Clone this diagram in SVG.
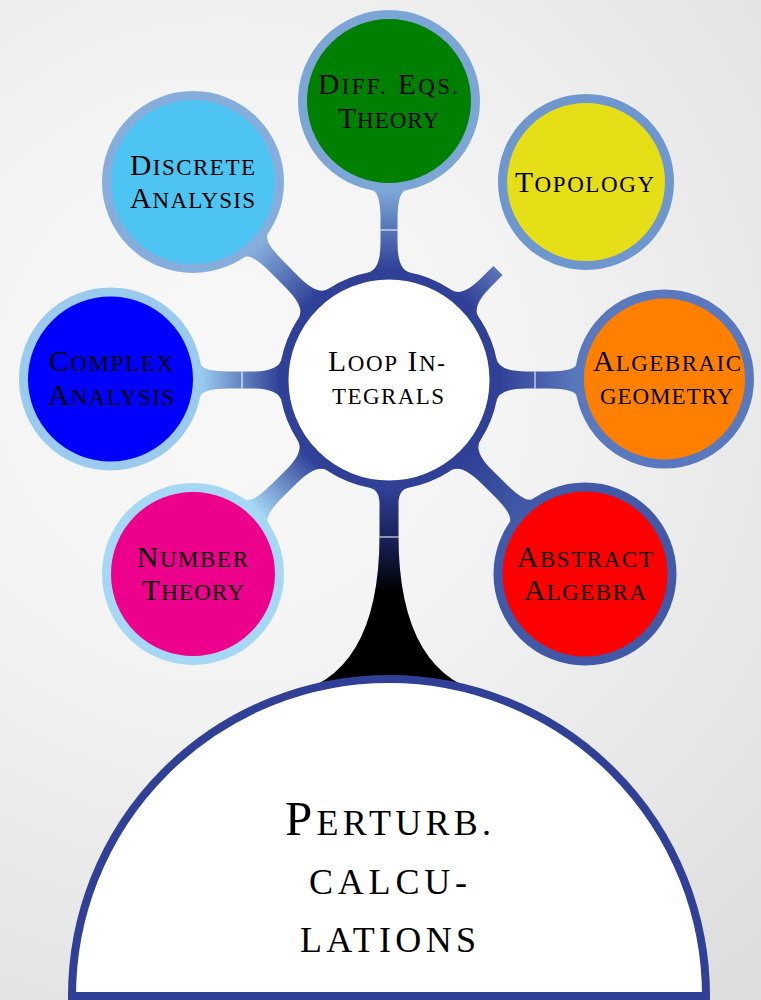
<svg xmlns="http://www.w3.org/2000/svg" width="761" height="1000" viewBox="0 0 761 1000">
<defs>
<style>
.t{font-family:"Liberation Serif","Times New Roman",serif;font-size:29.5px;fill:#000;text-anchor:middle}
.s{font-size:23px}
.b{font-size:49px}
.bs{font-size:36px}
.seam{stroke:#fff;stroke-width:1.2;opacity:0.85}
</style>
<radialGradient id="bg" gradientUnits="userSpaceOnUse" cx="230" cy="380" r="780">
<stop offset="0" stop-color="#f8f8f8"/><stop offset="0.35" stop-color="#f4f4f4"/><stop offset="1" stop-color="#dedede"/>
</radialGradient>
<linearGradient id="gDiff" gradientUnits="userSpaceOnUse" x1="389" y1="270" x2="389" y2="192"><stop offset="0" stop-color="#2F4096"/><stop offset="1" stop-color="#7BA6D6"/></linearGradient>
<linearGradient id="gDisc" gradientUnits="userSpaceOnUse" x1="312" y1="302" x2="257" y2="247"><stop offset="0" stop-color="#2F4096"/><stop offset="1" stop-color="#86AEDC"/></linearGradient>
<linearGradient id="gTopo" gradientUnits="userSpaceOnUse" x1="466" y1="302" x2="498" y2="270"><stop offset="0" stop-color="#2F4096"/><stop offset="1" stop-color="#5C76B8"/></linearGradient>
<linearGradient id="gComp" gradientUnits="userSpaceOnUse" x1="280" y1="380" x2="202" y2="380"><stop offset="0" stop-color="#2F4096"/><stop offset="1" stop-color="#9ACAEE"/></linearGradient>
<linearGradient id="gAlg" gradientUnits="userSpaceOnUse" x1="498" y1="380" x2="576" y2="380"><stop offset="0" stop-color="#2F4096"/><stop offset="1" stop-color="#5A78BD"/></linearGradient>
<linearGradient id="gNum" gradientUnits="userSpaceOnUse" x1="311" y1="457" x2="257" y2="511"><stop offset="0" stop-color="#2F4096"/><stop offset="1" stop-color="#A6D8F6"/></linearGradient>
<linearGradient id="gAbs" gradientUnits="userSpaceOnUse" x1="467" y1="457" x2="521" y2="510"><stop offset="0" stop-color="#2F4096"/><stop offset="1" stop-color="#4159A6"/></linearGradient>
<linearGradient id="gPert" gradientUnits="userSpaceOnUse" x1="389" y1="489" x2="389" y2="592"><stop offset="0" stop-color="#2F4096"/><stop offset="0.47" stop-color="#18235A"/><stop offset="1" stop-color="#000"/></linearGradient>
</defs>
<rect width="761" height="1000" fill="url(#bg)"/>

<g id="connectors">
<path fill="url(#gDiff)" d="M411 272.7 Q397.5 270.8 397.5 242.8 L397.5 219.6 Q397.5 191.6 406 190.4 L372 190.4 Q380.5 191.6 380.5 219.6 L380.5 242.8 Q380.5 270.8 367 272.7 Z"/>
<path fill="url(#gDisc)" d="M329.2 288.3 Q318.2 296.4 298.5 276.5 L282.5 260.3 Q262.8 240.4 268 233.6 L243.8 257.5 Q250.7 252.4 270.4 272.3 L286.5 288.5 Q306.2 308.4 297.9 319.2 Z"/>
<path fill="url(#gTopo)" d="M479.1 317.8 Q470.7 307.1 490.5 287.3 L502.6 275.1 L493.4 265.9 L481.2 278.1 Q461.5 297.9 450.8 289.6 Z"/>
<path fill="url(#gComp)" d="M281.7 358 Q279.8 371.5 251.8 371.5 L229.6 371.5 Q201.6 371.5 200.4 363 L200.4 397 Q201.6 388.5 229.6 388.5 L251.8 388.5 Q279.8 388.5 281.7 402 Z"/>
<path fill="url(#gAlg)" d="M496.3 358 Q498.2 371.5 526.2 371.5 L547.9 371.5 Q575.9 371.5 577.1 363 L577.1 397 Q575.9 388.5 547.9 388.5 L526.2 388.5 Q498.2 388.5 496.3 402 Z"/>
<path fill="url(#gNum)" d="M297.3 439.8 Q305.4 450.8 285.5 470.5 L271.3 484.5 Q251.4 504.2 244.6 499 L268.5 523.2 Q263.4 516.3 283.3 496.6 L297.5 482.5 Q317.4 462.8 328.2 471.1 Z"/>
<path fill="url(#gAbs)" d="M449.8 471.1 Q460.6 462.8 480.5 482.5 L494.4 496.3 Q514.3 516 509.2 522.8 L533.1 498.7 Q526.3 503.9 506.4 484.2 L492.5 470.5 Q472.6 450.8 480.7 439.8 Z"/>
<path fill="url(#gPert)" d="M409 487.7 Q398.5 489.1 398.5 504 L398.5 535 Q398.5 679.1 494 695.5 L284 695.5 Q379.5 679.1 379.5 535 L379.5 504 Q379.5 489.1 369 487.7 Z"/>
<line class="seam" x1="380.5" y1="230" x2="397.5" y2="230"/>
<line class="seam" x1="242" y1="371.5" x2="242" y2="388.5"/>
<line class="seam" x1="535" y1="371.5" x2="535" y2="388.5"/>
<line class="seam" x1="379.5" y1="537" x2="398.5" y2="537"/>
</g>

<g id="node-perturb">
<path d="M72 996 A317 317 0 0 1 706 996 Z" fill="#fff" stroke="#2F4096" stroke-width="8"/>
<text class="t" x="388" y="835" textLength="206"><tspan class="b">P</tspan><tspan class="bs">ERTURB.</tspan></text>
<text class="t bs" x="388" y="894" textLength="158">CALCU-</text>
<text class="t bs" x="388" y="952" textLength="176">LATIONS</text>
</g>

<g id="node-center">
<circle cx="389" cy="380" r="105" fill="#fff" stroke="#2F4096" stroke-width="9"/>
<text class="t" x="386.5" y="371" textLength="117"><tspan>L</tspan><tspan class="s">OOP</tspan> <tspan>I</tspan><tspan class="s">N-</tspan></text>
<text class="t s" x="388" y="404" textLength="112">TEGRALS</text>
</g>

<g id="node-diff">
<circle cx="389" cy="101" r="86.5" fill="#008000" stroke="#7BA6D6" stroke-width="9"/>
<text class="t" x="388" y="94" textLength="140"><tspan>D</tspan><tspan class="s">IFF.</tspan>  <tspan>E</tspan><tspan class="s">QS.</tspan></text>
<text class="t" x="388.5" y="128" textLength="101"><tspan>T</tspan><tspan class="s">HEORY</tspan></text>
</g>

<g id="node-discrete">
<circle cx="193" cy="182" r="86.5" fill="#4DC4F1" stroke="#86AEDC" stroke-width="9"/>
<text class="t" x="192.5" y="175" textLength="125"><tspan>D</tspan><tspan class="s">ISCRETE</tspan></text>
<text class="t" x="192.5" y="208" textLength="125"><tspan>A</tspan><tspan class="s">NALYSIS</tspan></text>
</g>

<g id="node-topology">
<circle cx="586" cy="182" r="83.5" fill="#E6DE17" stroke="#6E97CF" stroke-width="9"/>
<text class="t" x="584.5" y="192" textLength="139"><tspan>T</tspan><tspan class="s">OPOLOGY</tspan></text>
</g>

<g id="node-complex">
<circle cx="110.5" cy="379" r="87" fill="#0000FF" stroke="#9ACAEE" stroke-width="9"/>
<text class="t" x="111" y="371" textLength="124"><tspan>C</tspan><tspan class="s">OMPLEX</tspan></text>
<text class="t" x="111" y="405" textLength="126"><tspan>A</tspan><tspan class="s">NALYSIS</tspan></text>
</g>

<g id="node-algebraic">
<circle cx="664.5" cy="379" r="85" fill="#FF8000" stroke="#5A78BD" stroke-width="9"/>
<text class="t" x="667" y="371" textLength="148"><tspan>A</tspan><tspan class="s">LGEBRAIC</tspan></text>
<text class="t s" x="666.5" y="404" textLength="133">GEOMETRY</text>
</g>

<g id="node-number">
<circle cx="193" cy="574" r="86.5" fill="#EC008C" stroke="#A6D8F6" stroke-width="9"/>
<text class="t" x="192.5" y="567" textLength="111"><tspan>N</tspan><tspan class="s">UMBER</tspan></text>
<text class="t" x="193" y="600" textLength="102"><tspan>T</tspan><tspan class="s">HEORY</tspan></text>
</g>

<g id="node-abstract">
<circle cx="585" cy="574" r="87" fill="#FF0000" stroke="#4159A6" stroke-width="9"/>
<text class="t" x="585" y="567" textLength="136"><tspan>A</tspan><tspan class="s">BSTRACT</tspan></text>
<text class="t" x="585" y="600" textLength="122"><tspan>A</tspan><tspan class="s">LGEBRA</tspan></text>
</g>
</svg>
